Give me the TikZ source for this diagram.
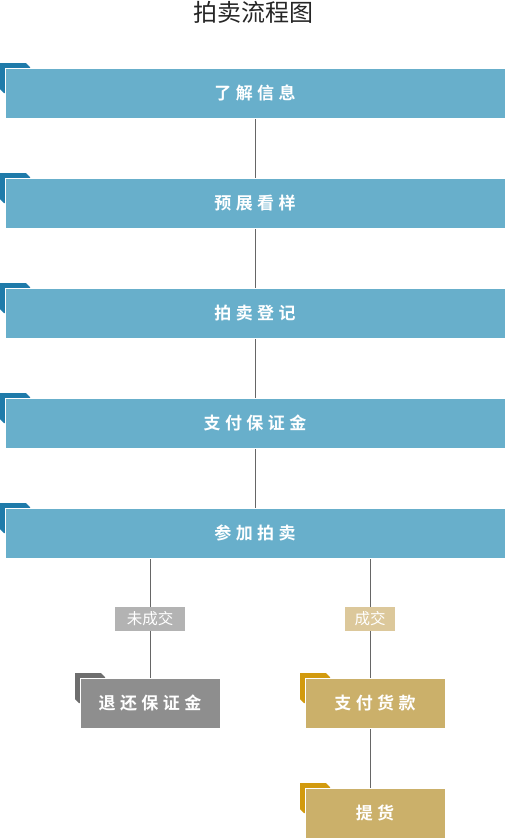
\documentclass[tikz,border=0pt]{standalone}
\usepackage{fontspec}
\usetikzlibrary{positioning,backgrounds}
\newfontfamily\cjk{Noto Sans CJK SC}
\newfontfamily\cjkbold[LetterSpace=26]{Noto Sans CJK SC Bold}
\definecolor{stepblue}{HTML}{68AFCB}
\definecolor{tabblue}{HTML}{1F7BAA}
\definecolor{stepgray}{HTML}{8E8E8E}
\definecolor{tabgray}{HTML}{6E6E6E}
\definecolor{stepgold}{HTML}{CBB06A}
\definecolor{tabgold}{HTML}{D29A0E}
\definecolor{taggray}{HTML}{B3B3B3}
\definecolor{taggold}{HTML}{DCC89B}
\definecolor{linegray}{HTML}{666666}
% small folded tab behind the top left corner of a box
\newcommand{\boxtab}[2]{%
  \begin{scope}[on background layer]
    \fill[#2] ([shift={(-5,-5)}]#1.north west) -- ++(26,0) -- ++(4,4) -- ++(0,26)
      -- ++(-26,0) -- ++(-4,-4) -- cycle;
  \end{scope}}

\begin{document}
\begin{tikzpicture}[
  x=1pt, y=-1pt,
  font=\cjk,
  stepbox/.style={draw=white, line width=0.8pt, minimum height=50pt, inner sep=0pt,
    outer sep=0pt, text=white, font=\cjkbold\fontsize{17}{17}\selectfont},
  mainbox/.style={stepbox, fill=stepblue, minimum width=500pt},
  sidebox/.style={stepbox, minimum width=140pt},
  tagbox/.style={minimum height=24pt, inner sep=0pt, text=white,
    font=\cjk\fontsize{15.5}{15.5}\selectfont},
  link/.style={draw=linegray, line width=0.8pt}
]
\useasboundingbox (0,0) rectangle (505,838);
\node[font=\cjk\fontsize{24}{24}\selectfont, text=black!85] (title) at (253,12) {拍卖流程图};

\node[mainbox] (a) at (255,93) {了解信息};
\node[mainbox, below=60pt of a] (b) {预展看样};
\node[mainbox, below=60pt of b] (c) {拍卖登记};
\node[mainbox, below=60pt of c] (d) {支付保证金};
\node[mainbox, below=60pt of d] (e) {参加拍卖};

\node[tagbox, fill=taggray, minimum width=70pt] (lost) at (150,619) {未成交};
\node[tagbox, fill=taggold, minimum width=50pt] (won) at (370,619) {成交};

\node[sidebox, fill=stepgray] (f) at (150,703) {退还保证金};
\node[sidebox, fill=stepgold] (g) at (375,703) {支付货款};
\node[sidebox, fill=stepgold, below=60pt of g] (h) {提货};

\foreach \n in {a,b,c,d,e} {\boxtab{\n}{tabblue}}
\boxtab{f}{tabgray}
\boxtab{g}{tabgold}
\boxtab{h}{tabgold}

\begin{scope}[on background layer]
\draw[link] (a) -- (b);
\draw[link] (b) -- (c);
\draw[link] (c) -- (d);
\draw[link] (d) -- (e);
\draw[link] (lost |- e.south) -- (lost) -- (f);
\draw[link] (won |- e.south) -- (won) -- (won |- g.north);
\draw[link] (won |- g.south) -- (won |- h.north);
\end{scope}
\end{tikzpicture}
\end{document}
